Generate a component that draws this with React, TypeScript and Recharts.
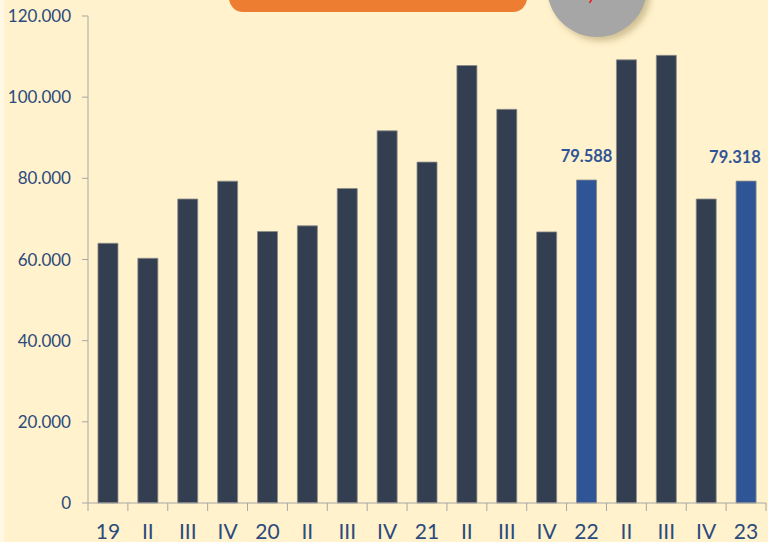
import React from 'react';
import { BarChart, Bar, XAxis, YAxis, Cell, LabelList } from 'recharts';

// ── Datos ────────────────────────────────────────────────────────────────────
const CATEGORIES = ['19', 'II', 'III', 'IV', '20', 'II', 'III', 'IV', '21', 'II', 'III', 'IV', '22', 'II', 'III', 'IV', '23'];
const VALUES = [64000, 60300, 74900, 79300, 66900, 68300, 77500, 91700, 84000, 107800, 97000, 66800, 79588, 109200, 110300, 74900, 79318];
const HIGHLIGHT = [false, false, false, false, false, false, false, false, false, false, false, false, true, false, false, false, true];
const Y_TICKS = [0, 20000, 40000, 60000, 80000, 100000, 120000];

// ── Colores ──────────────────────────────────────────────────────────────────
const BG = '#FFF2CC';
const BAR_DARK = '#333F50';
const BAR_BLUE = '#2F5597';
const TEXT_BLUE = '#2C4A7C';
const AXIS_GRAY = '#A6A6A6';
const FONT = 'Lato, "Open Sans", sans-serif';
const CHART_W = 768;

const fmt = (v: number) => String(v).replace(/\B(?=(\d{3})+(?!\d))/g, '.');

const data = CATEGORIES.map((c, i) => ({
  id: `${c}-${i}`,
  val: VALUES[i],
  txt: HIGHLIGHT[i] ? fmt(VALUES[i]) : '',
}));

// Tick del eje X: etiqueta centrada y marca en el borde de la categoría
const XTick = (props: any) => {
  const { x, y, payload, index, visibleTicksCount } = props;
  const half = payload?.offset || 20;
  const last = index === visibleTicksCount - 1;
  return (
    <g>
      <line x1={x - half} x2={x - half} y1={y - 8} y2={y} stroke={AXIS_GRAY} strokeWidth={1} />
      {last && <line x1={x + half} x2={x + half} y1={y - 8} y2={y} stroke={AXIS_GRAY} strokeWidth={1} />}
      <text x={x} y={y + 28} textAnchor="middle" fill={TEXT_BLUE} fontSize={21} fontFamily={FONT}>
        {CATEGORIES[index] ?? payload.value}
      </text>
    </g>
  );
};

// Etiqueta de valor sobre la barra; se desplaza a la izquierda si no cabe
const ValueLabel = (props: any) => {
  const { x, y, width, value } = props;
  if (!value) return null;
  const textW = 54;
  const cx = Math.min(x + width / 2, CHART_W - 6 - textW / 2);
  return (
    <text
      x={cx}
      y={y - 18}
      textAnchor="middle"
      fill={BAR_BLUE}
      fontSize={16.5}
      fontWeight={700}
      fontFamily={FONT}
    >
      {value}
    </text>
  );
};

export default function App() {
  return (
    <div style={{ position: 'relative', width: 768, height: 542, background: BG, overflow: 'hidden' }}>
      <style>{`body{margin:0}`}</style>
      <div style={{ position: 'absolute', left: 0, top: 0, width: 4, height: 542, background: '#FFF8E4' }} />
      {/* Recuadro naranja superior (recortado) */}
      <div
        style={{
          position: 'absolute', left: 229, top: -40, width: 298, height: 52,
          background: '#ED7D31', borderRadius: 14,
        }}
      />
      {/* Círculo gris (recortado) */}
      <div
        style={{
          position: 'absolute', left: 547, top: -63, width: 100, height: 100,
          borderRadius: '50%', background: '#A6A6A6',
          boxShadow: '4px 4px 6px rgba(150,130,80,0.45)',
          display: 'flex', alignItems: 'flex-end', justifyContent: 'center',
        }}
      >
        <span
          style={{
            color: '#FF0000', fontFamily: FONT, fontWeight: 700, fontStyle: 'italic',
            fontSize: 22, lineHeight: '22px', marginBottom: 34, marginLeft: -2,
          }}
        >
          -0,3%
        </span>
      </div>
      <div style={{ position: 'absolute', left: 0, top: 0 }}>
        <BarChart
          width={CHART_W}
          height={542}
          data={data}
          margin={{ top: 16, right: 2, bottom: 0, left: 0 }}
          barCategoryGap="25%"
        >
          <XAxis
            dataKey="id"
            height={39}
            stroke={AXIS_GRAY}
            tickLine={false}
            tick={<XTick />}
            interval={0}
          />
          <YAxis
            width={88}
            domain={[0, 120000]}
            ticks={Y_TICKS}
            tickFormatter={fmt}
            stroke={AXIS_GRAY}
            tickSize={6}
            tickMargin={11}
            tick={{ fill: TEXT_BLUE, fontSize: 17, fontFamily: FONT }}
          />
          <Bar dataKey="val" isAnimationActive={false} stroke="#8C8C8C" strokeWidth={0.8}>
            {data.map((d, i) => (
              <Cell key={d.id} fill={HIGHLIGHT[i] ? BAR_BLUE : BAR_DARK} />
            ))}
            <LabelList dataKey="txt" content={<ValueLabel />} />
          </Bar>
        </BarChart>
      </div>
    </div>
  );
}
